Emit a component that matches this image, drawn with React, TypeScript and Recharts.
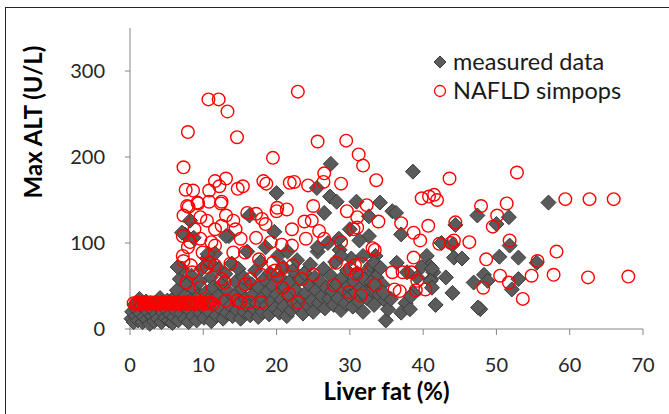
import { ScatterChart, Scatter, XAxis, YAxis, Label } from 'recharts';

// measured data, spread-out points above the main cloud
const measuredHigh: [number, number][] = [
  [27.4, 192], [38.6, 183], [20.0, 158], [25.5, 164], [27.3, 154], [28.2, 148], [30.9, 148], [34.1, 147],
  [35.8, 137], [36.3, 135], [57.1, 147], [47.4, 132], [50.0, 122], [51.7, 130], [44.4, 121], [37.0, 110],
  [26.5, 135], [16.3, 132], [19.7, 113], [13.1, 108], [8.2, 126], [7.5, 110], [32.6, 108], [31.3, 103],
  [28.5, 105], [28.8, 85], [30.0, 116], [42.5, 100], [44.0, 98], [51.8, 97], [50.4, 84], [53.0, 83],
  [44.2, 83], [45.3, 82], [40.5, 85], [55.5, 77], [36.4, 77], [40.9, 73], [39.8, 72], [41.4, 66],
  [43.1, 60], [41.1, 58], [48.3, 63], [46.9, 54], [48.8, 56], [53.0, 58], [52.1, 46], [44.0, 42],
  [41.7, 28], [47.8, 23], [47.5, 25], [34.9, 10], [37.6, 30], [37.0, 19], [38.2, 23], [35.2, 23],
  [35.6, 35], [38.7, 42], [34.6, 42], [32.9, 54], [32.9, 74], [33.5, 85], [31.8, 85], [31.8, 42],
  [33.3, 77], [34.2, 71], [41.2, 70], [33.3, 52], [37.8, 66], [39.2, 60], [41.0, 56], [41.2, 48],
  [38.3, 38], [32.6, 131], [25.6, 95], [7.1, 112], [8.7, 106], [10.6, 87], [11.0, 77], [6.5, 72],
];

// measured data, dense cloud at low fat
const measuredLowA: [number, number][] = [
  [0.2, 12], [0.3, 20], [0.5, 8], [0.6, 28], [0.8, 15], [1.0, 22], [1.1, 10], [1.3, 35], [1.4, 18],
  [1.6, 27], [1.7, 8], [1.9, 14], [2.0, 24], [2.2, 32], [2.3, 11], [2.5, 19], [2.7, 6], [2.8, 27],
  [3.0, 15], [3.1, 22], [3.3, 9], [3.5, 30], [3.6, 17], [3.8, 12], [4.0, 25], [4.1, 36], [4.3, 8],
  [4.5, 19], [4.6, 28], [4.8, 13], [5.0, 22], [5.1, 33], [5.3, 10], [5.5, 17], [5.7, 27], [5.8, 7],
  [6.0, 14], [6.2, 38], [6.3, 21], [6.5, 30], [6.6, 10],
  [6.4, 45], [6.8, 58], [7.0, 18], [7.1, 70], [7.3, 26], [7.5, 12], [7.6, 40], [7.8, 52], [8.0, 8],
  [8.1, 22], [8.3, 33], [8.4, 62], [8.6, 15], [8.8, 46], [9.0, 28], [9.1, 10], [9.3, 38], [9.5, 55],
  [9.6, 19], [9.8, 70], [10.0, 25], [10.1, 13], [10.3, 42], [10.5, 82], [10.6, 33], [10.8, 20],
  [11.0, 60], [11.1, 9], [11.3, 48], [11.5, 28], [11.6, 88], [11.8, 16], [12.0, 38], [12.1, 70],
];

const measuredLowB: [number, number][] = [
  [12.3, 24], [12.5, 52], [12.7, 12], [12.9, 33], [13.0, 64], [13.2, 19], [13.4, 44], [13.5, 108],
  [13.7, 27], [13.9, 76], [14.0, 15], [14.2, 38], [14.4, 55], [14.6, 22], [14.8, 70], [15.0, 30],
  [15.1, 12], [15.3, 47], [15.5, 60], [15.6, 20], [15.8, 35], [16.0, 90], [16.1, 26], [16.4, 16],
  [16.6, 52], [16.8, 40], [17.0, 23], [17.1, 68], [17.3, 30], [17.5, 14], [17.6, 48], [17.8, 78],
  [18.0, 36], [18.1, 20], [18.3, 58], [18.5, 95], [18.6, 27], [18.8, 44], [19.0, 17], [19.1, 65],
  [19.3, 32], [19.5, 50], [19.8, 24], [20.0, 40], [20.2, 85], [20.4, 19], [20.5, 60], [20.7, 34],
  [20.9, 72], [21.0, 26], [21.2, 48], [21.4, 15], [21.5, 90], [21.7, 38], [21.9, 56], [22.0, 22],
  [22.2, 68], [22.4, 30], [22.6, 45], [22.8, 80], [23.0, 25], [23.2, 58], [23.4, 36], [23.6, 18],
  [23.8, 65], [24.0, 42], [24.2, 28], [24.4, 52], [24.6, 75], [24.8, 33], [25.0, 20], [25.2, 60],
  [25.4, 45], [25.6, 90], [25.8, 30], [26.0, 55], [26.2, 38], [26.4, 70], [26.6, 24], [26.8, 48],
  [27.0, 100], [27.2, 35], [27.4, 62], [27.6, 44], [27.8, 28], [28.0, 78], [28.2, 52], [28.4, 36],
  [28.6, 92], [28.8, 22], [29.0, 60], [29.2, 45], [29.4, 30], [29.6, 68], [29.8, 50], [30.0, 38],
  [30.2, 82], [30.4, 26], [30.6, 55], [30.8, 42], [31.0, 65], [31.2, 32], [31.5, 48], [31.8, 20],
  [32.0, 58], [32.3, 36], [32.6, 70], [33.0, 45], [33.3, 28], [33.6, 60], [34.0, 40], [34.4, 52],
  [34.8, 33],
];

// NAFLD simpops, scattered points
const simpopsScatter: [number, number][] = [
  [10.7, 267], [12.1, 267], [13.3, 253], [22.9, 276], [7.9, 229], [14.6, 223], [25.6, 218], [29.5, 219],
  [19.5, 199], [31.2, 203], [31.8, 190], [7.3, 188], [52.8, 182], [43.6, 175], [33.6, 173], [26.5, 181],
  [26.4, 171], [28.8, 169], [24.3, 167], [22.4, 171], [21.8, 170], [18.2, 172], [18.6, 169], [13.1, 175],
  [11.6, 172], [12.2, 166], [10.8, 161], [14.7, 163], [15.4, 166], [7.6, 162], [8.6, 161], [59.4, 151],
  [62.7, 151], [66.0, 151], [39.8, 152], [40.8, 154], [41.5, 156], [41.9, 150], [51.4, 146], [47.9, 143],
  [32.3, 144], [25.0, 143], [12.5, 148], [10.8, 148], [8.0, 142], [9.2, 147], [7.3, 132], [20.1, 141],
  [21.4, 139], [16.0, 135], [17.2, 134], [20.0, 137], [29.6, 137], [31.0, 130], [31.0, 118], [30.5, 116],
  [33.9, 125], [37.0, 123], [40.7, 120], [44.4, 124], [50.1, 132], [49.5, 119], [38.7, 112], [39.6, 103],
  [42.2, 99], [43.8, 100], [46.3, 101], [51.8, 103], [58.2, 90], [55.6, 79], [48.6, 81], [38.7, 83],
  [54.8, 62], [57.8, 63], [62.5, 60], [68.0, 61], [50.5, 62], [51.7, 54], [53.6, 35], [48.2, 48],
  [44.2, 103], [39.2, 56], [40.3, 46], [39.0, 45], [38.4, 66], [35.8, 66], [37.2, 66], [36.1, 46],
  [36.8, 44], [33.5, 51], [33.1, 94], [33.4, 92], [31.6, 76], [30.7, 74], [30.0, 70], [30.9, 64],
  [29.9, 43], [31.5, 39], [28.1, 77], [28.8, 101], [27.8, 51], [26.5, 105], [25.8, 114], [24.8, 126],
  [23.8, 125], [24.0, 105], [25.0, 63], [23.4, 58], [22.9, 31], [22.1, 97], [22.1, 116], [22.2, 74],
  [21.7, 41], [20.7, 98], [20.8, 48], [19.2, 101], [18.5, 122], [18.0, 128], [17.2, 106], [17.6, 81],
  [17.9, 63], [16.4, 58], [15.7, 52], [15.1, 31], [16.3, 31], [17.9, 31], [19.8, 68], [20.1, 62],
  [20.7, 70], [19.5, 77], [14.4, 116], [14.1, 126], [13.1, 132], [12.5, 120], [11.6, 116], [10.5, 126],
  [9.6, 130], [8.8, 116], [9.6, 105], [8.2, 101], [7.2, 108], [7.9, 95], [7.2, 85], [7.3, 79],
  [8.3, 74], [9.9, 89], [11.1, 101], [11.6, 97], [10.8, 77], [10.5, 72], [11.6, 74], [13.7, 76],
  [14.1, 89], [15.1, 105], [15.7, 89], [12.5, 58], [12.9, 54], [9.6, 48], [7.7, 54], [8.5, 66],
  [14.6, 33], [13.1, 33], [7.8, 143], [9.3, 146], [12.4, 146],
];

// NAFLD simpops, the packed band near 30 U/L
const simpopsBand: [number, number][] = [
  [0.5, 30], [0.8, 29], [1.0, 31], [1.3, 30], [1.5, 29], [1.8, 31], [2.0, 30], [2.3, 30], [2.5, 29],
  [2.8, 31], [3.0, 30], [3.3, 30], [3.5, 31], [3.8, 29], [4.0, 30], [4.3, 30], [4.5, 31], [4.8, 29],
  [5.0, 30], [5.3, 30], [5.5, 31], [5.8, 29], [6.0, 30], [6.3, 30], [6.5, 31], [6.8, 29], [7.0, 30],
  [7.3, 30], [7.5, 31], [7.8, 29], [8.0, 30], [8.3, 30], [8.6, 31], [8.9, 29], [9.2, 30], [9.5, 30],
  [9.8, 31], [10.1, 29], [10.4, 30], [10.7, 30], [11.0, 31], [11.3, 29],
];

const xTicks = [0, 10, 20, 30, 40, 50, 60, 70];
const yTicks = [0, 100, 200, 300];

const toPoints = (arr: [number, number][]) => arr.map(([x, y]) => ({ x, y }));
const measuredPoints = toPoints([...measuredLowA, ...measuredLowB, ...measuredHigh]);
const simpopsPoints = toPoints([...simpopsBand, ...simpopsScatter]);

const font = 'Lato, "Open Sans", sans-serif';

const Diamond = (props: any) => {
  const { cx, cy } = props;
  const r = 7.5;
  return (
    <polygon
      points={`${cx},${cy - r} ${cx + r},${cy} ${cx},${cy + r} ${cx - r},${cy}`}
      fill="#5b5b5b"
      stroke="#3c3c3c"
      strokeWidth={1}
    />
  );
};

const Ring = (props: any) => {
  const { cx, cy } = props;
  return <circle cx={cx} cy={cy} r={6.3} fill="none" stroke="#ff0000" strokeWidth={1.4} />;
};

export default function App() {
  return (
    <div style={{ position: 'absolute', left: 0, top: 0, width: 669, height: 414, background: '#fff', overflow: 'hidden', fontFamily: font }}>
      <div style={{ position: 'absolute', left: 5, top: 7, width: 700, height: 450, borderLeft: '1.5px solid #262626', borderTop: '1.5px solid #262626' }} />
      <ScatterChart width={669} height={414} margin={{ top: 28, right: 26, bottom: 0, left: 0 }} style={{ position: 'absolute', left: 0, top: 0 }}>
        <XAxis
          type="number"
          dataKey="x"
          domain={[0, 70]}
          ticks={xTicks}
          height={85}
          stroke="#868686"
          tickSize={6}
          tickMargin={23}
          tick={{ fill: '#262626', fontSize: 20, fontFamily: font }}
        >
          <Label
            value="Liver fat (%)"
            position="insideBottom"
            offset={14}
            style={{ fontSize: 24, fontWeight: 700, fill: '#000', fontFamily: font }}
          />
        </XAxis>
        <YAxis
          type="number"
          dataKey="y"
          domain={[0, 350]}
          ticks={yTicks}
          width={130}
          stroke="#868686"
          tickSize={5}
          tickMargin={20}
          tick={{ fill: '#262626', fontSize: 20, fontFamily: font }}
        >
          <Label
            content={() => (
              <text
                x={32}
                y={122}
                transform="rotate(-90, 32, 122)"
                textAnchor="middle"
                dominantBaseline="central"
                style={{ fontSize: 24, fontWeight: 700, fill: '#000', fontFamily: font }}
              >
                Max ALT (U/L)
              </text>
            )}
          />
        </YAxis>
        <Scatter name="measured data" data={measuredPoints} shape={Diamond} isAnimationActive={false} />
        <Scatter name="NAFLD simpops" data={simpopsPoints} shape={Ring} isAnimationActive={false} />
      </ScatterChart>
      <div style={{ position: 'absolute', left: 432, top: 47, fontSize: 23.5, color: '#1a1a1a', lineHeight: '29px' }}>
        <div style={{ display: 'flex', alignItems: 'center' }}>
          <svg width={16} height={16} style={{ marginRight: 5 }}>
            <polygon points="8,2 14,8 8,14 2,8" fill="#5b5b5b" stroke="#3c3c3c" strokeWidth={1} />
          </svg>
          measured data
        </div>
        <div style={{ display: 'flex', alignItems: 'center' }}>
          <svg width={16} height={16} style={{ marginRight: 5 }}>
            <circle cx={8} cy={8} r={5.5} fill="none" stroke="#ff0000" strokeWidth={1.3} />
          </svg>
          NAFLD simpops
        </div>
      </div>
    </div>
  );
}
